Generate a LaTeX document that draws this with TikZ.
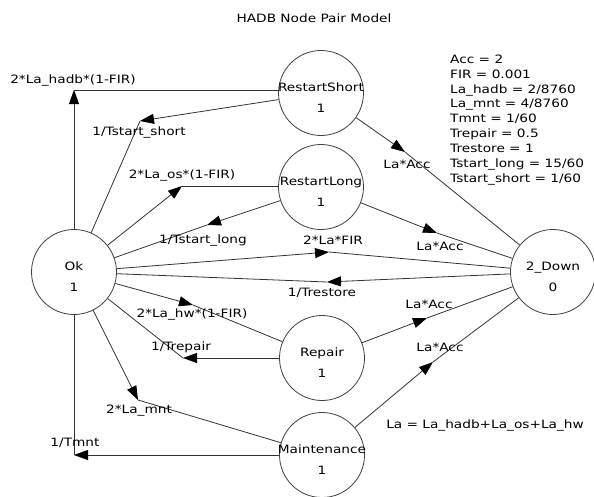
\documentclass[tikz,border=0pt]{standalone}
\usepackage{fontspec}
\setmainfont{DejaVu Sans}[FakeStretch=1.19]
\usetikzlibrary{arrows.meta}
\begin{document}
\begin{tikzpicture}[x=1pt,y=-1pt,
  every node/.style={font=\fontsize{11.5}{14.9}\selectfont, inner sep=0pt, text=black},
  st/.style={draw=black!75, circle, minimum size=85pt, line width=0.8pt},
  stt/.style={align=center, font=\fontsize{11.5}{21}\selectfont},
  edge/.style={draw=black!80, line width=0.8pt},
  arr/.style={edge, -{Triangle[length=14pt,width=10pt,color=black]}}]
\useasboundingbox (0,0) rectangle (594,496);
\fill[white] (0,0) rectangle (594,496);
% states
\node[st] (ok)  at (74,272)  {};
\node[st] (rs)  at (321,93)  {};
\node[st] (rl)  at (321,187) {};
\node[st] (rep) at (322,358) {};
\node[st] (mnt) at (322,455) {};
\node[st] (dn)  at (553,272) {};
\node[stt] (okt)  at ([yshift=-5pt]ok.center)  {Ok\\1};
\node[stt] (rst)  at ([yshift=-5pt]rs.center)  {RestartShort\\1};
\node[stt] (rlt)  at ([yshift=-5pt]rl.center)  {RestartLong\\1};
\node[stt] (rept) at ([yshift=-5pt]rep.center) {Repair\\1};
\node[stt] (mntt) at ([yshift=-5pt]mnt.center) {Maintenance\\1};
\node[stt] (dnt)  at ([yshift=-5pt]dn.center)  {2\_Down\\0};
% bend points
\coordinate (m1)  at (74,90);
\coordinate (m2)  at (140,121);
\coordinate (m3)  at (182,186);
\coordinate (m4)  at (207,225);
\coordinate (m5)  at (329,252);
\coordinate (m6)  at (327,282);
\coordinate (m7)  at (405,152);
\coordinate (m8)  at (437,233);
\coordinate (m9)  at (193,305);
\coordinate (m10) at (183,358);
\coordinate (m11) at (427,318);
\coordinate (m12) at (433,362);
\coordinate (m13) at (138,400);
\coordinate (m14) at (74,455);
% connectors
\draw[arr] (ok.north) -- (m1);  \draw[edge] (m1) -- (rs.west |- m1);
\draw[arr] (rs) -- (m2);        \draw[edge] (m2) -- (ok);
\draw[arr] (ok) -- (m3);        \draw[edge] (m3) -- (rl.west |- m3);
\draw[arr] (rl) -- (m4);        \draw[edge] (m4) -- (ok);
\draw[arr] (ok) -- (m5);        \draw[edge] (m5) -- (dn);
\draw[arr] (dn) -- (m6);        \draw[edge] (m6) -- (ok);
\draw[arr] (rs) -- (m7);        \draw[edge] (m7) -- (dn);
\draw[arr] (rl) -- (m8);        \draw[edge] (m8) -- (dn);
\draw[arr] (ok) -- (m9);        \draw[edge] (m9) -- (rep);
\draw[arr] (rep.west) -- (m10); \draw[edge] (m10) -- (ok);
\draw[arr] (rep) -- (m11);      \draw[edge] (m11) -- (dn);
\draw[arr] (mnt) -- (m12);      \draw[edge] (m12) -- (dn);
\draw[arr] (ok) -- (m13);       \draw[edge] (m13) -- (mnt);
\draw[arr] (mnt.west) -- (m14); \draw[edge] (m14) -- (ok.south);
% labels
\node (l1)  at (73,80)   {2*La\_hadb*(1-FIR)};
\node (l2)  at (139,132) {1/Tstart\_short};
\node (l3)  at (182,175) {2*La\_os*(1-FIR)};
\node (l4)  at (203,240) {1/Tstart\_long};
\node (l5)  at (333,240) {2*La*FIR};
\node (l6)  at (322,293) {1/Trestore};
\node (l7)  at (407,164) {La*Acc};
\node (l8)  at (440,246) {La*Acc};
\node (l9)  at (192,314) {2*La\_hw*(1-FIR)};
\node (l10) at (181,347) {1/Trepair};
\node (l11) at (429,304) {La*Acc};
\node (l12) at (440,347) {La*Acc};
\node (l13) at (139,411) {2*La\_mnt};
\node (l14) at (75,443)  {1/Tmnt};
\node (la)  at (485,425) {La = La\_hadb+La\_os+La\_hw};
\node (title) at (314,18) {HADB Node Pair Model};
\node[anchor=north west, align=left] (par) at (450,54.5) {Acc = 2\\FIR = 0.001\\La\_hadb = 2/8760\\La\_mnt = 4/8760\\Tmnt = 1/60\\Trepair = 0.5\\Trestore = 1\\Tstart\_long = 15/60\\Tstart\_short = 1/60};
\end{tikzpicture}
\end{document}
